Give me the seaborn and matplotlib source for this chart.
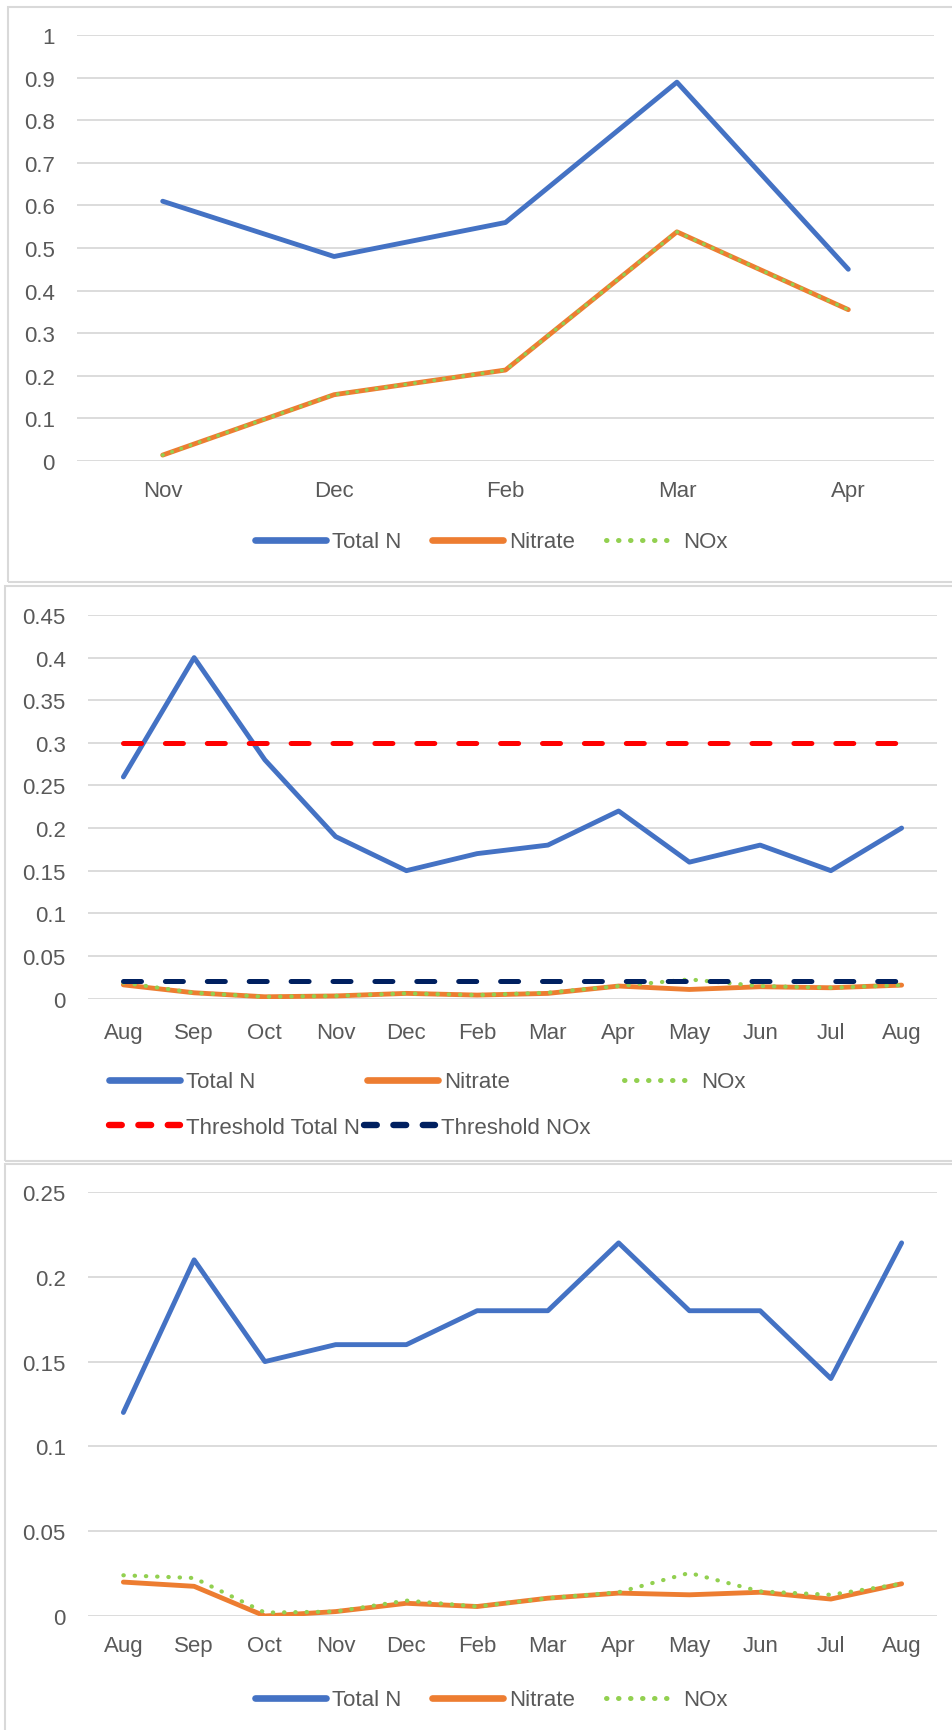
import numpy as np
import matplotlib
matplotlib.use("Agg")
import matplotlib.pyplot as plt
import seaborn as sns
from matplotlib.patches import Rectangle
from matplotlib.lines import Line2D

# panel 1 data
months_1 = ["Nov", "Dec", "Feb", "Mar", "Apr"]
total_n_1 = [0.61, 0.48, 0.56, 0.89, 0.45]
nitrate_1 = [0.013, 0.155, 0.213, 0.538, 0.355]
nox_1 = [0.013, 0.155, 0.213, 0.538, 0.355]

# panel 2 data
months_2 = ["Aug", "Sep", "Oct", "Nov", "Dec", "Feb", "Mar", "Apr", "May", "Jun", "Jul", "Aug"]
total_n_2 = [0.26, 0.40, 0.28, 0.19, 0.15, 0.17, 0.18, 0.22, 0.16, 0.18, 0.15, 0.20]
nitrate_2 = [0.016, 0.0067, 0.002, 0.003, 0.006, 0.004, 0.006, 0.0146, 0.0106, 0.0138, 0.0126, 0.0157]
nox_2 = [0.0185, 0.0067, 0.002, 0.003, 0.006, 0.004, 0.0068, 0.0146, 0.0224, 0.0146, 0.0126, 0.0157]
threshold_total_n = [0.3] * 12
threshold_nox = [0.02] * 12

# panel 3 data
months_3 = ["Aug", "Sep", "Oct", "Nov", "Dec", "Feb", "Mar", "Apr", "May", "Jun", "Jul", "Aug"]
total_n_3 = [0.12, 0.21, 0.15, 0.16, 0.16, 0.18, 0.18, 0.22, 0.18, 0.18, 0.14, 0.22]
nitrate_3 = [0.020, 0.0175, 0.0, 0.0026, 0.0075, 0.0056, 0.0105, 0.0135, 0.0125, 0.014, 0.010, 0.019]
nox_3 = [0.024, 0.0224, 0.002, 0.0026, 0.0091, 0.0056, 0.0105, 0.014, 0.0254, 0.0145, 0.0125, 0.019]

sns.set_theme(style="white")
plt.rcParams['font.family'] = ['Liberation Sans', 'DejaVu Sans']

BLUE = "#4472C4"
ORANGE = "#ED7D31"
GREEN = "#92D050"
RED = "#FF0000"
NAVY = "#002060"
GRID = "#D9D9D9"
TEXT = "#595959"
FS = 16

W, H = 952, 1731
fig = plt.figure(figsize=(W / 100, H / 100), dpi=100)


def box(x0, y0, x1, y1):
    # pixel box (top-left origin) -> figure fraction
    return [x0 / W, 1 - y1 / H, (x1 - x0) / W, (y1 - y0) / H]


def panel_border(x0, y0, x1, y1):
    fig.patches.append(Rectangle((x0 / W, 1 - y1 / H), (x1 - x0) / W, (y1 - y0) / H,
                                 transform=fig.transFigure, fill=False,
                                 edgecolor=GRID, lw=1.5))


lw_main = 3.5
dot_style = (0, (0.1, 2.6))
dash_style = (0, (3.6, 4.78))


def style_axes(ax, labels, ymax, step, xpad):
    n = len(labels)
    ax.set_xlim(-0.5, n - 0.5)
    ax.set_ylim(0, ymax)
    ticks = np.round(np.arange(0, ymax + step / 2, step), 3)
    ax.set_yticks(ticks)
    ax.set_yticklabels([f"{t:.2f}".rstrip("0").rstrip(".") for t in ticks])
    ax.set_xticks(range(n))
    ax.set_xticklabels(labels)
    ax.yaxis.grid(True, color=GRID, lw=1.3)
    ax.set_axisbelow(True)
    for s in ax.spines.values():
        s.set_visible(False)
    ax.tick_params(axis='both', colors=TEXT, labelsize=FS, length=0)
    ax.tick_params(axis='x', pad=xpad)
    ax.tick_params(axis='y', pad=16)
    ax.set_xlabel("")
    ax.set_ylabel("")
    ax.set_facecolor("none")


# ---------- panel 1 ----------
panel_border(8, 8, 960, 583)
ax1 = fig.add_axes(box(77, 36.4, 934, 461.6))
x1 = np.arange(len(months_1))
sns.lineplot(x=x1, y=total_n_1, ax=ax1, color=BLUE, lw=lw_main)
sns.lineplot(x=x1, y=nitrate_1, ax=ax1, color=ORANGE, lw=lw_main)
ax1.plot(x1, nox_1, color=GREEN, lw=2.6, linestyle=dot_style, dash_capstyle='round')
style_axes(ax1, months_1, 1.0, 0.1, 14)

# ---------- panel 2 ----------
panel_border(5, 587, 960, 1162)
ax2 = fig.add_axes(box(88, 616, 937, 999.5))
x2 = np.arange(len(months_2))
sns.lineplot(x=x2, y=total_n_2, ax=ax2, color=BLUE, lw=lw_main)
sns.lineplot(x=x2, y=nitrate_2, ax=ax2, color=ORANGE, lw=lw_main)
ax2.plot(x2, nox_2, color=GREEN, lw=3.0, linestyle=dot_style, dash_capstyle='round')
ax2.plot(x2, threshold_total_n, color=RED, lw=3.6, linestyle=dash_style, dash_capstyle='round')
ax2.plot(x2, threshold_nox, color=NAVY, lw=3.6, linestyle=dash_style, dash_capstyle='round')
style_axes(ax2, months_2, 0.45, 0.05, 17)

# ---------- panel 3 ----------
panel_border(5, 1165, 960, 1740)
ax3 = fig.add_axes(box(88, 1193, 937, 1617))
x3 = np.arange(len(months_3))
sns.lineplot(x=x3, y=total_n_3, ax=ax3, color=BLUE, lw=lw_main)
sns.lineplot(x=x3, y=nitrate_3, ax=ax3, color=ORANGE, lw=lw_main)
ax3.plot(x3, nox_3, color=GREEN, lw=3.0, linestyle=dot_style, dash_capstyle='round')
style_axes(ax3, months_3, 0.25, 0.05, 14)

# ---------- legends (one entry each, placed like Excel does) ----------
h_total = Line2D([], [], color=BLUE, lw=4.8, solid_capstyle='round')
h_nit = Line2D([], [], color=ORANGE, lw=4.8, solid_capstyle='round')
h_nox = Line2D([], [], color=GREEN, lw=3.6, linestyle=(0, (0.1, 2.3)), dash_capstyle='round')
h_thr = Line2D([], [], color=RED, lw=4.6, linestyle=(0, (2.0, 2.6)), dash_capstyle='round')
h_thn = Line2D([], [], color=NAVY, lw=4.6, linestyle=(0, (2.0, 2.6)), dash_capstyle='round')


def legend_item(handle, label, x, y):
    lg = fig.legend([handle], [label], loc='center left', bbox_to_anchor=(x / W, 1 - y / H),
                    frameon=False, fontsize=FS, handlelength=3.2, handletextpad=0.25,
                    labelcolor=TEXT, borderaxespad=0, borderpad=0)
    return lg


for h, lab, x in [(h_total, "Total N", 255), (h_nit, "Nitrate", 432), (h_nox, "NOx", 606)]:
    legend_item(h, lab, x, 543)
    legend_item(h, lab, x, 1701)

legend_item(h_total, "Total N", 109, 1083)
legend_item(h_nit, "Nitrate", 367, 1083)
legend_item(h_nox, "NOx", 624, 1083)
legend_item(h_thr, "Threshold Total N", 109, 1128)
legend_item(h_thn, "Threshold NOx", 364, 1128)

fig.savefig("out.png", dpi=100, facecolor="white")
